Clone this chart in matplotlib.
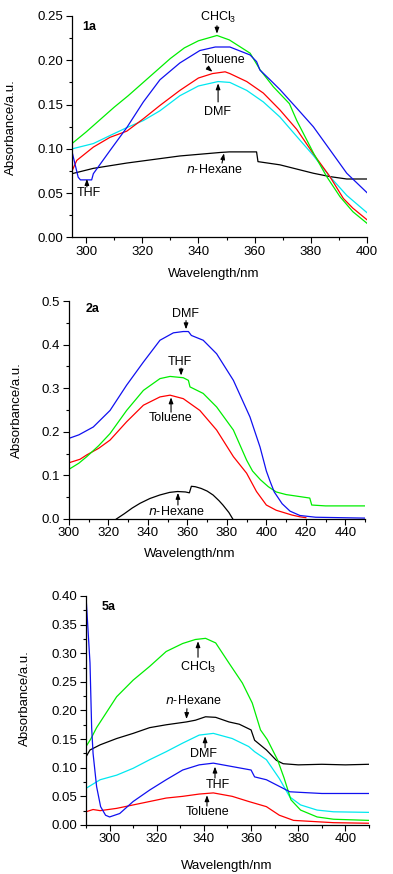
import matplotlib
matplotlib.use("Agg")
import matplotlib.pyplot as plt
from matplotlib.ticker import MultipleLocator, FormatStrFormatter

plt.rcParams['font.family'] = ['Liberation Sans', 'DejaVu Sans']
plt.rcParams['mathtext.fontset'] = 'custom'
plt.rcParams['mathtext.rm'] = 'Liberation Sans'

# ---------------- Panel 1a ----------------
p1_hex_x = [295, 302.6, 314.5, 333.4, 348, 351, 360.7, 361.2, 369, 380.9, 386.8, 392.8, 400]
p1_hex_y = [0.072, 0.078, 0.084, 0.092, 0.096, 0.0966, 0.0966, 0.0856, 0.082, 0.0725, 0.0687, 0.066, 0.066]

p1_chcl3_x = [295, 300, 305, 310, 315, 320, 325, 330, 335, 340, 346.6, 351, 358.4, 362, 366.7, 372.4, 375, 381, 385.6, 390.4, 395, 400]
p1_chcl3_y = [0.106, 0.119, 0.133, 0.147, 0.160, 0.174, 0.188, 0.202, 0.214, 0.222, 0.228, 0.223, 0.208, 0.189, 0.170, 0.151, 0.132, 0.095, 0.069, 0.046, 0.029, 0.016]

p1_thf_x = [295, 297.2, 298, 302, 302.6, 308.5, 314.5, 320.4, 326.3, 333.4, 340.5, 346, 351.2, 358.4, 360.7, 361.9, 365.5, 369, 375, 380.9, 386.8, 392.8, 400]
p1_thf_y = [0.097, 0.068, 0.065, 0.065, 0.072, 0.098, 0.124, 0.153, 0.178, 0.197, 0.211, 0.215, 0.215, 0.206, 0.1985, 0.189, 0.178, 0.167, 0.146, 0.125, 0.099, 0.0725, 0.0506]

p1_tol_x = [295, 296.7, 302.6, 308.5, 314.5, 320.4, 326.3, 333.4, 340, 345, 349.5, 351.2, 357.2, 363.1, 369, 375, 380.9, 386.8, 391.6, 395, 400]
p1_tol_y = [0.075, 0.087, 0.102, 0.113, 0.120, 0.134, 0.149, 0.166, 0.180, 0.185, 0.187, 0.185, 0.176, 0.163, 0.144, 0.122, 0.0945, 0.0687, 0.044, 0.033, 0.020]

p1_dmf_x = [295, 302.6, 308.5, 314.5, 320.4, 326.3, 333.4, 340, 347, 351.2, 357.2, 363.1, 369, 375, 380.9, 386.8, 392.8, 400]
p1_dmf_y = [0.100, 0.106, 0.115, 0.124, 0.132, 0.143, 0.160, 0.171, 0.176, 0.175, 0.166, 0.153, 0.136, 0.114, 0.0926, 0.0687, 0.0475, 0.028]

# ---------------- Panel 2a ----------------
p2_dmf_x = [300, 305, 312.3, 320.8, 329.2, 337.7, 346.1, 352.9, 357.9, 360.5, 362, 368, 374.8, 383.3, 391.7, 396.8, 400, 402, 404, 408, 412, 417, 425, 450]
p2_dmf_y = [0.185, 0.193, 0.211, 0.249, 0.307, 0.360, 0.410, 0.427, 0.430, 0.430, 0.421, 0.410, 0.379, 0.318, 0.234, 0.165, 0.110, 0.085, 0.062, 0.035, 0.018, 0.008, 0.004, 0.002]

p2_thf_x = [300, 305, 309, 315, 320.8, 329.2, 337.7, 346.1, 351.2, 357.9, 360.5, 361.3, 368, 374.8, 383.3, 390, 393, 397, 401, 405, 410, 416, 422, 423, 430, 450]
p2_thf_y = [0.114, 0.128, 0.143, 0.168, 0.196, 0.249, 0.295, 0.322, 0.327, 0.324, 0.318, 0.303, 0.288, 0.257, 0.204, 0.135, 0.110, 0.090, 0.074, 0.062, 0.056, 0.052, 0.048, 0.032, 0.030, 0.030]

p2_tol_x = [300, 305.6, 309, 315, 320.8, 329.2, 337.7, 346.1, 351.2, 357.9, 366.3, 374.8, 383.3, 390, 395, 400, 405, 413, 417, 420]
p2_tol_y = [0.129, 0.137, 0.147, 0.162, 0.181, 0.223, 0.261, 0.280, 0.284, 0.276, 0.249, 0.204, 0.143, 0.105, 0.063, 0.032, 0.020, 0.009, 0.005, 0.003]

p2_hex_x = [324, 328, 332, 336, 341, 346, 351, 355, 359, 361, 362, 364, 367, 370, 373, 376, 378, 381, 383]
p2_hex_y = [0.000, 0.012, 0.025, 0.036, 0.047, 0.055, 0.061, 0.063, 0.062, 0.060, 0.075, 0.074, 0.070, 0.064, 0.055, 0.042, 0.032, 0.015, 0.000]

# ---------------- Panel 5a ----------------
p3_thf_x = [290, 291.7, 292.4, 293, 294.5, 296.2, 298.3, 300, 304.3, 310, 317, 324, 331, 338, 344, 352, 360, 361.5, 366.5, 373.6, 376.4, 380.7, 390, 400, 410]
p3_thf_y = [0.400, 0.283, 0.170, 0.125, 0.067, 0.032, 0.017, 0.014, 0.020, 0.041, 0.061, 0.079, 0.096, 0.105, 0.108, 0.102, 0.096, 0.084, 0.079, 0.064, 0.058, 0.057, 0.055, 0.055, 0.055]

p3_chcl3_x = [290, 292, 294.5, 303, 310, 317, 324, 331, 336.4, 340.7, 345, 350.6, 356.3, 360.5, 364, 366.9, 371.2, 374, 376.9, 381, 388, 395, 410]
p3_chcl3_y = [0.137, 0.150, 0.170, 0.224, 0.253, 0.277, 0.303, 0.317, 0.324, 0.326, 0.318, 0.283, 0.248, 0.213, 0.166, 0.149, 0.114, 0.082, 0.044, 0.026, 0.014, 0.010, 0.008]

p3_hex_x = [290, 291.7, 296, 303, 310, 317, 324, 332.6, 336.4, 340.7, 345, 350.6, 355, 360, 361.5, 366.5, 370.7, 373.6, 380, 390, 400, 410]
p3_hex_y = [0.119, 0.131, 0.140, 0.151, 0.160, 0.170, 0.175, 0.180, 0.183, 0.189, 0.188, 0.180, 0.176, 0.166, 0.148, 0.131, 0.113, 0.107, 0.105, 0.106, 0.105, 0.106]

p3_dmf_x = [290, 296, 303, 310, 317, 324, 331, 338, 344, 352, 359, 361.5, 366.5, 372, 376.4, 381, 388, 395, 410]
p3_dmf_y = [0.064, 0.079, 0.087, 0.099, 0.114, 0.128, 0.143, 0.157, 0.160, 0.151, 0.137, 0.128, 0.114, 0.081, 0.049, 0.035, 0.026, 0.023, 0.022]

p3_tol_x = [290, 293, 296, 303, 310, 317, 324, 331, 338, 344, 352, 359, 366.5, 372, 378, 395, 410]
p3_tol_y = [0.023, 0.027, 0.025, 0.029, 0.035, 0.041, 0.047, 0.050, 0.054, 0.056, 0.050, 0.041, 0.032, 0.017, 0.008, 0.004, 0.003]

GREEN = '#00ee00'
BLUE = '#1010f0'
RED = '#ff0000'
CYAN = '#00e8f0'
BLACK = '#000000'

fig = plt.figure(figsize=(3.93, 8.74), dpi=100)

def style(ax, xlim, ylim, xmaj, ymaj, yfmt, xlab_coords, ylab_coords):
    ax.set_xlim(*xlim)
    ax.set_ylim(*ylim)
    for s in ['top', 'right']:
        ax.spines[s].set_visible(False)
    for s in ['left', 'bottom']:
        ax.spines[s].set_linewidth(0.9)
    ax.xaxis.set_major_locator(MultipleLocator(xmaj))
    ax.xaxis.set_minor_locator(MultipleLocator(xmaj / 2))
    ax.yaxis.set_major_locator(MultipleLocator(ymaj))
    ax.yaxis.set_minor_locator(MultipleLocator(ymaj / 2))
    ax.yaxis.set_major_formatter(FormatStrFormatter(yfmt))
    ax.tick_params(which='major', direction='out', length=4, width=0.8, labelsize=9.5)
    ax.tick_params(which='minor', direction='out', length=2.5, width=0.8)
    ax.tick_params(axis='x', pad=2)
    ax.tick_params(axis='y', pad=2.5)
    ax.set_xlabel('Wavelength/nm', fontsize=9.5)
    ax.set_ylabel('Absorbance/a.u.', fontsize=9.5)
    ax.xaxis.set_label_coords(*xlab_coords)
    ax.yaxis.set_label_coords(*ylab_coords)

def note(ax, text, tpos, tail, tip, **kw):
    ax.text(tpos[0], tpos[1], text, fontsize=9, ha='center', va='center', **kw)
    ax.annotate('', xy=tip, xytext=tail,
                arrowprops=dict(arrowstyle='-|>,head_length=0.35,head_width=0.13',
                                color='black', lw=0.8, shrinkA=0, shrinkB=0))

LW = 0.9

# Panel 1a
ax1 = fig.add_axes([0.1832, 0.7283, 0.7506, 0.2534])
ax1.plot(p1_hex_x, p1_hex_y, color=BLACK, lw=LW)
ax1.plot(p1_dmf_x, p1_dmf_y, color=CYAN, lw=LW)
ax1.plot(p1_tol_x, p1_tol_y, color=RED, lw=LW)
ax1.plot(p1_chcl3_x, p1_chcl3_y, color=GREEN, lw=LW)
ax1.plot(p1_thf_x, p1_thf_y, color=BLUE, lw=LW)
style(ax1, (295, 400), (0, 0.25), 20, 0.05, '%.2f', (0.481, -0.138), (-0.186, 0.5))
ax1.text(301, 0.238, '1a', fontsize=9, fontweight='bold', ha='center', va='center')
note(ax1, 'CHCl$_3$', (347.0, 0.248), (346.6, 0.239), (346.6, 0.230))
note(ax1, 'Toluene', (348.9, 0.200), (343.1, 0.192), (345.0, 0.187))
note(ax1, 'DMF', (346.8, 0.142), (347.0, 0.153), (347.0, 0.174))
note(ax1, 'THF', (300.9, 0.050), (300.3, 0.057), (300.3, 0.066))
note(ax1, '$\\mathit{n}$-Hexane', (345.5, 0.077), (348.4, 0.084), (349.1, 0.095))

# Panel 2a
ax2 = fig.add_axes([0.1756, 0.4062, 0.7532, 0.2494])
ax2.plot(p2_hex_x, p2_hex_y, color=BLACK, lw=LW)
ax2.plot(p2_tol_x, p2_tol_y, color=RED, lw=LW)
ax2.plot(p2_thf_x, p2_thf_y, color=GREEN, lw=LW)
ax2.plot(p2_dmf_x, p2_dmf_y, color=BLUE, lw=LW)
style(ax2, (300, 450), (0, 0.5), 20, 0.1, '%.1f', (0.409, -0.133), (-0.155, 0.5))
ax2.text(311.7, 0.482, '2a', fontsize=9, fontweight='bold', ha='center', va='center')
note(ax2, 'DMF', (359.0, 0.471), (359.3, 0.455), (359.3, 0.435))
note(ax2, 'THF', (356.3, 0.359), (356.8, 0.346), (356.8, 0.329))
note(ax2, 'Toluene', (351.2, 0.231), (351.7, 0.245), (351.7, 0.279))
note(ax2, '$\\mathit{n}$-Hexane', (354.5, 0.018), (355.2, 0.032), (355.2, 0.060))

# Panel 5a
ax3 = fig.add_axes([0.2188, 0.0561, 0.7201, 0.2620])
ax3.plot(p3_tol_x, p3_tol_y, color=RED, lw=LW)
ax3.plot(p3_dmf_x, p3_dmf_y, color=CYAN, lw=LW)
ax3.plot(p3_hex_x, p3_hex_y, color=BLACK, lw=LW)
ax3.plot(p3_chcl3_x, p3_chcl3_y, color=GREEN, lw=LW)
ax3.plot(p3_thf_x, p3_thf_y, color=BLUE, lw=LW)
style(ax3, (290, 410), (0, 0.40), 20, 0.05, '%.2f', (0.498, -0.153), (-0.196, 0.555))
ax3.set_xticks([300, 320, 340, 360, 380, 400])
ax3.text(299.5, 0.380, '5a', fontsize=9, fontweight='bold', ha='center', va='center')
note(ax3, 'CHCl$_3$', (337.5, 0.276), (337.5, 0.293), (337.5, 0.321))
note(ax3, '$\\mathit{n}$-Hexane', (335.4, 0.218), (332.8, 0.203), (332.6, 0.185))
note(ax3, 'DMF', (339.8, 0.124), (340.5, 0.135), (340.5, 0.155))
note(ax3, 'THF', (345.8, 0.070), (344.7, 0.082), (344.7, 0.102))
note(ax3, 'Toluene', (341.5, 0.023), (341.3, 0.033), (341.3, 0.052))

fig.savefig('out.png', dpi=100)
